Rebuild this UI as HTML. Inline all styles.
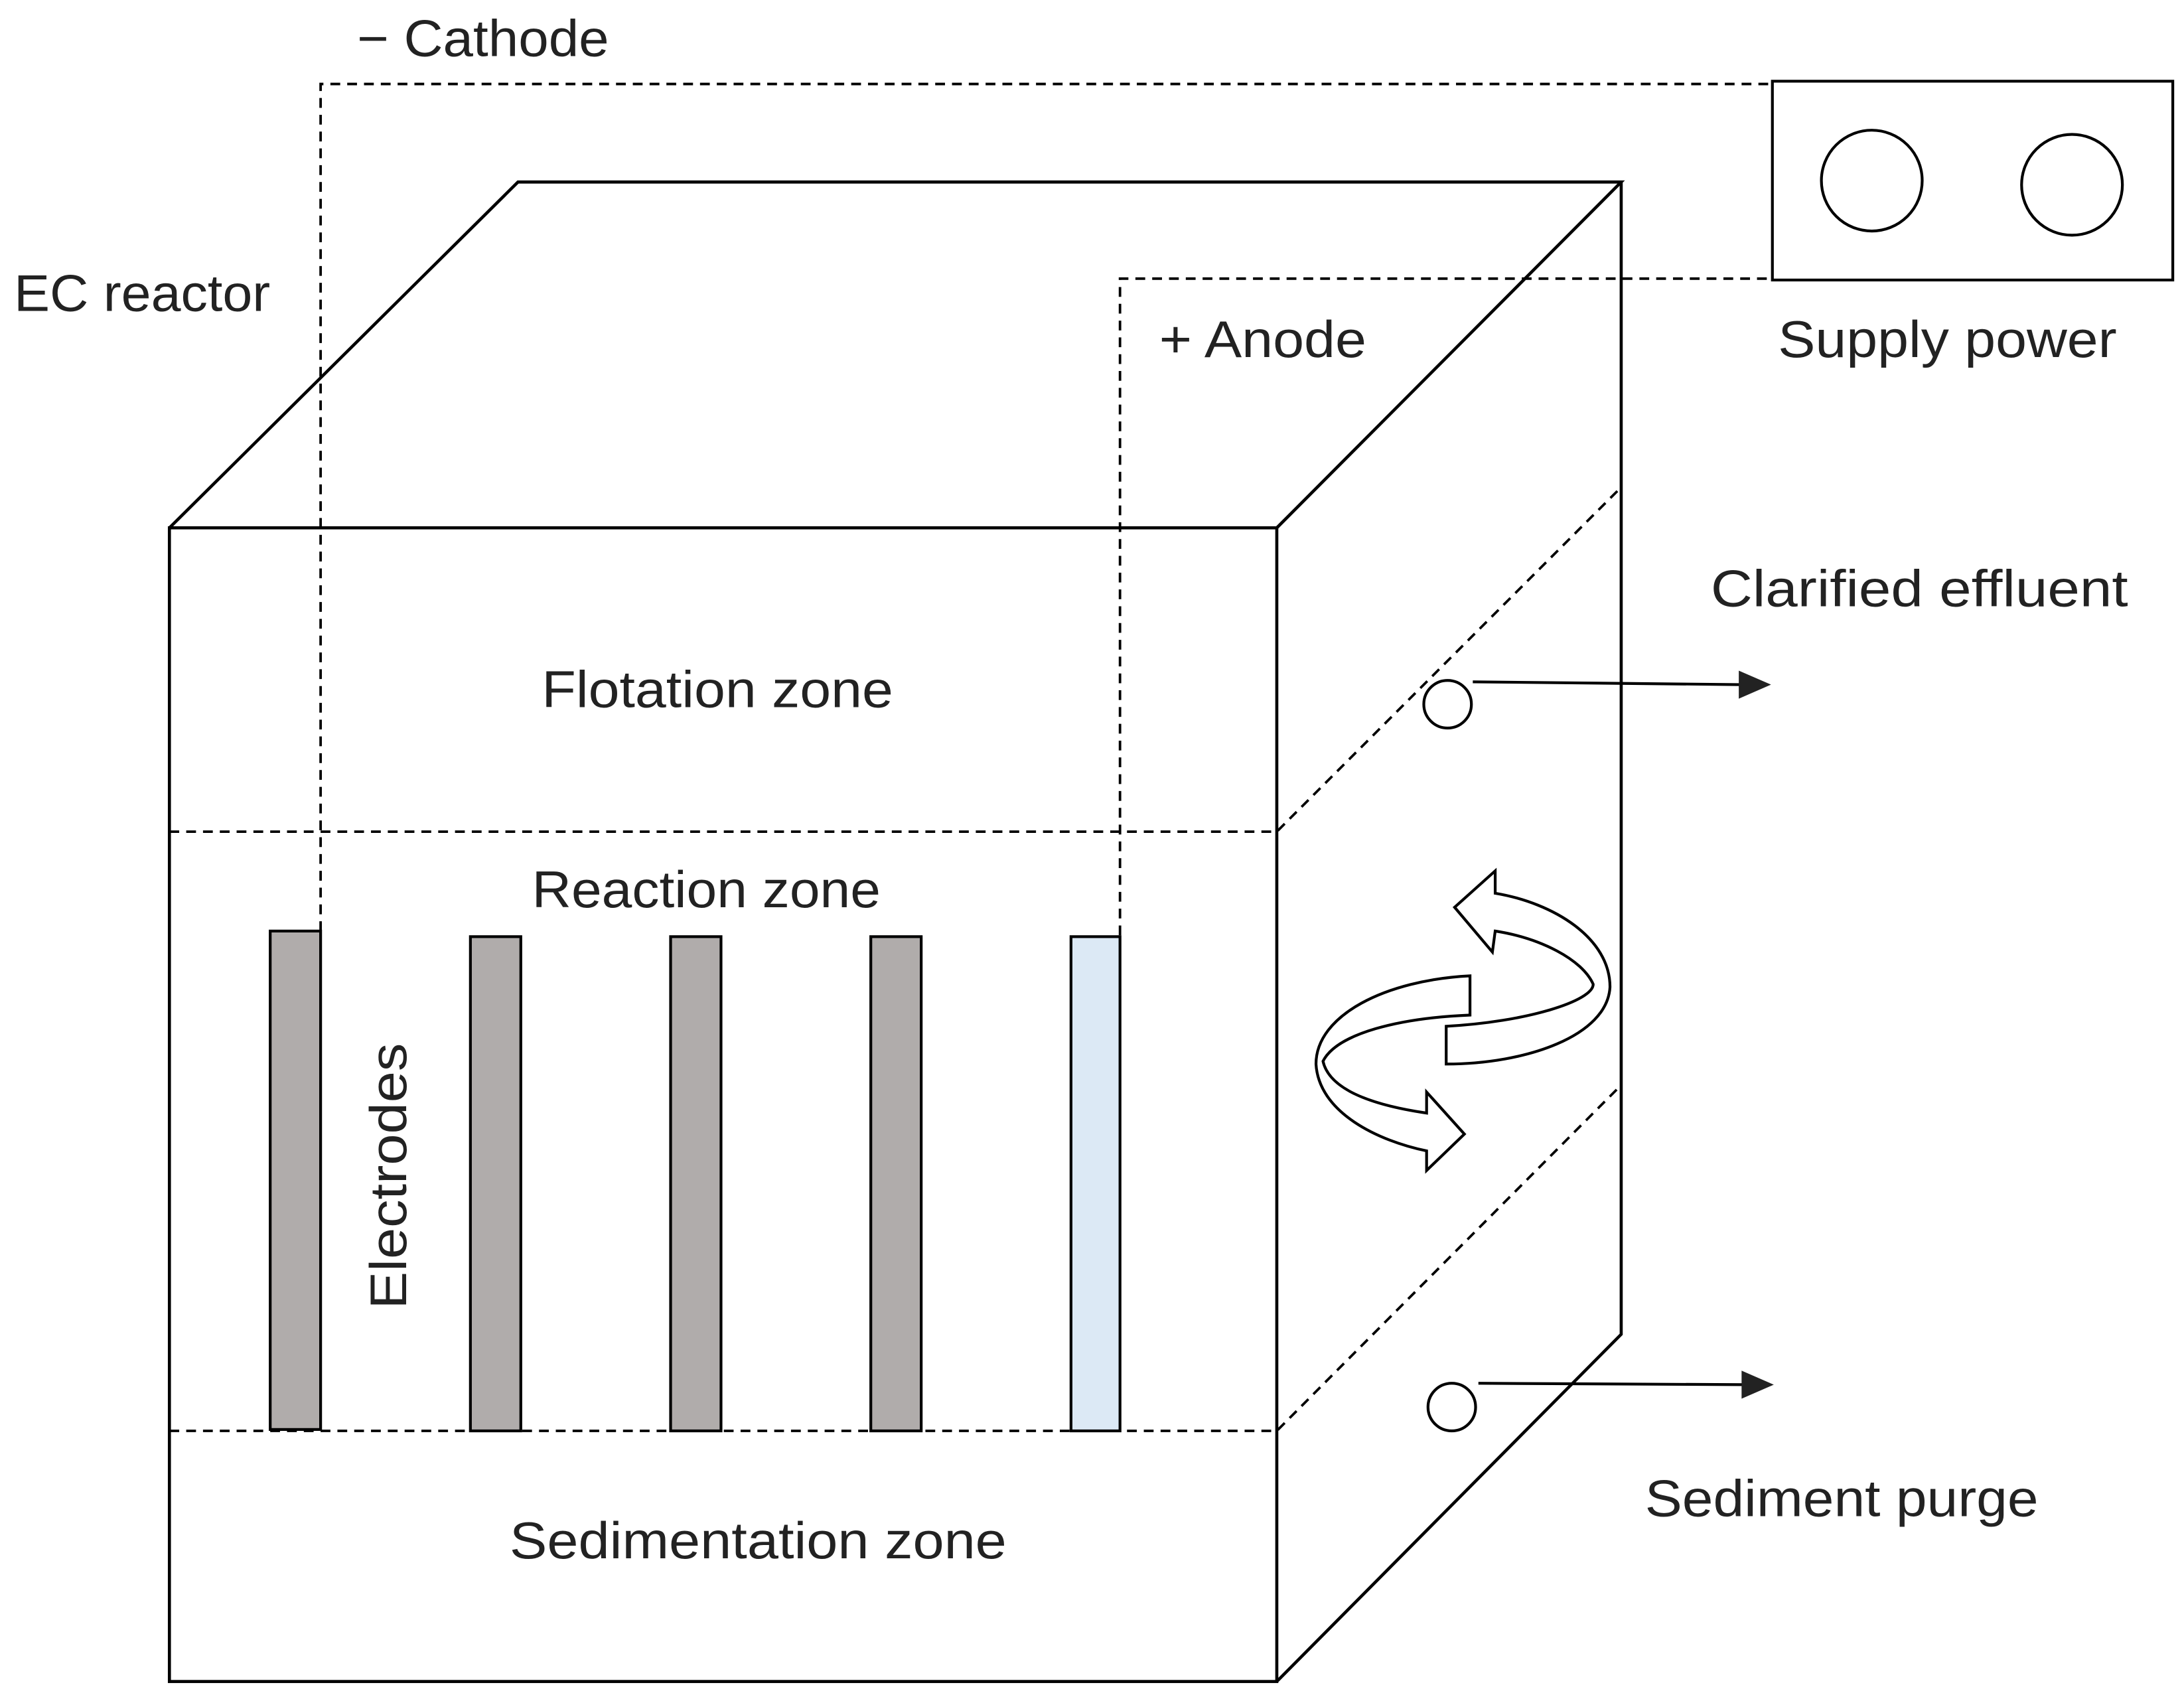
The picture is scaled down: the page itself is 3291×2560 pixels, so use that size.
<!DOCTYPE html>
<html><head><meta charset="utf-8"><style>html,body{margin:0;padding:0;background:#fff}svg{display:block}</style></head>
<body>
<svg width="3291" height="2560" viewBox="0 0 1560 1213.5" xmlns="http://www.w3.org/2000/svg" font-family="Liberation Sans, sans-serif" font-size="37" fill="#222">
<g fill="none" stroke="#000" stroke-width="2.2">
<rect x="121" y="377" width="791" height="824"/>
<path d="M121,377 L370,130 L1158,130 L912,377"/>
<path d="M1158,130 L1158,953 L912,1201"/>
</g>
<g fill="none" stroke="#000" stroke-width="1.8" stroke-dasharray="7,5">
<path d="M121,594 L912,594 L1158,348"/>
<path d="M121,1022 L912,1022 L1158,775"/>
<path d="M229,665 L229,60 L1266,60"/>
<path d="M800,668 L800,199 L1266,199"/>
</g>
<g stroke="#000" stroke-width="2">
<rect x="193" y="665" width="36" height="356" fill="#b0acab"/>
<rect x="336" y="669" width="36" height="353" fill="#b0acab"/>
<rect x="479" y="669" width="36" height="353" fill="#b0acab"/>
<rect x="622" y="669" width="36" height="353" fill="#b0acab"/>
<rect x="765" y="669" width="35" height="353" fill="#dce9f5"/>
</g>
<g fill="none" stroke="#000" stroke-width="2">
<rect x="1266" y="58" width="286" height="142"/>
<circle cx="1337" cy="129" r="36"/>
<circle cx="1480" cy="132" r="36"/>
<circle cx="1034" cy="503" r="17"/>
<circle cx="1037" cy="1005" r="17"/>
<line x1="1052" y1="487" x2="1245" y2="489"/>
<line x1="1056" y1="988" x2="1247" y2="989"/>
</g>
<path d="M1242,479 L1265,489 L1242,499 Z"/>
<path d="M1244,979 L1267,989 L1244,999 Z"/>
<g fill="#fff" stroke="#000" stroke-width="2">
<path d="M1050,697 C990,700 940,725 940,760 C942,795 985,815 1019,822 L1019,836 L1046,810 L1019,780 L1019,795 C985,790 950,780 945,758 C955,738 1000,727 1050,725 Z"/>
<path d="M1033,733 C1090,730 1138,715 1138,703 C1130,685 1100,670 1068,665 L1066,680 L1039,648 L1068,622 L1068,638 C1110,645 1150,670 1150,705 C1148,740 1090,760 1033,760 Z"/>
</g>
<g lengthAdjust="spacingAndGlyphs">
<text x="255" y="40" textLength="180" lengthAdjust="spacingAndGlyphs">− Cathode</text>
<text x="10" y="222" textLength="183" lengthAdjust="spacingAndGlyphs">EC reactor</text>
<text x="828" y="255" textLength="148" lengthAdjust="spacingAndGlyphs">+ Anode</text>
<text x="1270" y="255" textLength="242" lengthAdjust="spacingAndGlyphs">Supply power</text>
<text x="1222" y="433" textLength="298" lengthAdjust="spacingAndGlyphs">Clarified effluent</text>
<text x="387" y="505" textLength="251" lengthAdjust="spacingAndGlyphs">Flotation zone</text>
<text x="380" y="648" textLength="249" lengthAdjust="spacingAndGlyphs">Reaction zone</text>
<text transform="translate(290,935) rotate(-90)" textLength="190" lengthAdjust="spacingAndGlyphs">Electrodes</text>
<text x="364" y="1113" textLength="355" lengthAdjust="spacingAndGlyphs">Sedimentation zone</text>
<text x="1175" y="1083" textLength="281" lengthAdjust="spacingAndGlyphs">Sediment purge</text>
</g>
</svg>
</body></html>
